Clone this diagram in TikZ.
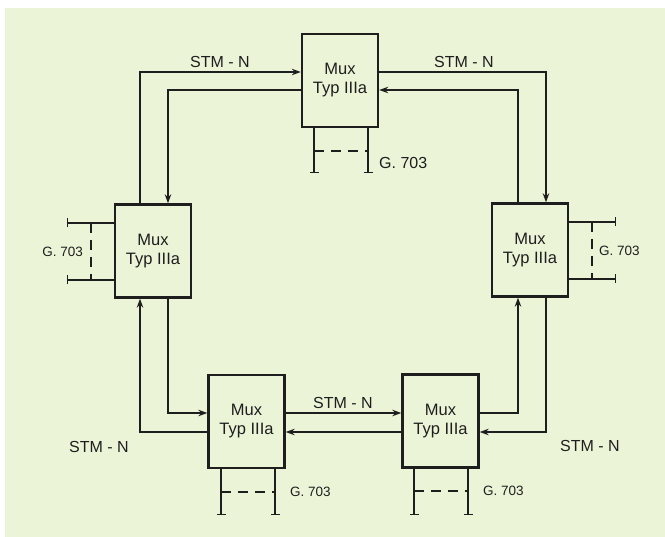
\documentclass[tikz,border=0pt]{standalone}
\usepackage{fontspec}
\setmainfont{Liberation Sans}
\usetikzlibrary{arrows.meta}
\definecolor{paper}{RGB}{236,244,216}
\definecolor{ink}{RGB}{30,30,30}
\begin{document}
\begin{tikzpicture}[x=1pt,y=-1pt,
  mux/.style={draw=ink,line width=2.4pt,minimum width=76pt,minimum height=93pt,inner sep=0pt,align=center,font=\fontsize{16.5}{19}\selectfont,text=ink},
  conn/.style={draw=ink,line width=1.1pt},
  arr/.style={conn,-{Stealth[length=9pt,width=6.5pt,inset=3pt]}},
  tee/.style={conn,-{Bar[width=9pt]}},
  dsh/.style={conn,dash pattern=on 10pt off 7pt},
  lbl/.style={font=\fontsize{16}{18}\selectfont,text=ink,inner sep=0pt},
  tlbl/.style={font=\fontsize{16}{18}\selectfont,text=ink,inner sep=0pt},
  glbl/.style={font=\fontsize{13.5}{15}\selectfont,text=ink,inner sep=0pt}]
\fill[white] (0,0) rectangle (665,537);
\fill[paper] (5,8) rectangle (665,537);
\useasboundingbox (0,0) rectangle (665,537);

% boxes
\node[mux] (T)  at (340,80.5)  {Mux\\Typ IIIa};
\node[mux] (L)  at (153,251)   {Mux\\Typ IIIa};
\node[mux] (R)  at (530,250)   {Mux\\Typ IIIa};
\node[mux] (BL) at (246.5,421.5) {Mux\\Typ IIIa};
\node[mux] (BR) at (440.5,421) {Mux\\Typ IIIa};

% helper lines
\coordinate (xL1) at (140,0);
\coordinate (xL2) at (168,0);
\coordinate (xR1) at (518,0);
\coordinate (xR2) at (546,0);
\coordinate (yT1) at (0,72);
\coordinate (yT2) at (0,90);
\coordinate (yB1) at (0,413);
\coordinate (yB2) at (0,432);

% ring connectors
\draw[arr] (L.north -| xL1) |- (T.west |- yT1);
\draw[arr] (T.west |- yT2) -| (L.north -| xL2);
\draw[arr] (T.east |- yT1) -| (R.north -| xR2);
\draw[arr] (R.north -| xR1) |- (T.east |- yT2);
\draw[arr] (L.south -| xL2) |- (BL.west |- yB1);
\draw[arr] (BL.west |- yB2) -| (L.south -| xL1);
\draw[arr] (BL.east |- yB1) -- (BR.west |- yB1);
\draw[arr] (BR.west |- yB2) -- (BL.east |- yB2);
\draw[arr] (BR.east |- yB1) -| (R.south -| xR1);
\draw[arr] (R.south -| xR2) |- (BR.east |- yB2);

% STM-N labels
\node[lbl] (s1) at (220,62) {STM - N};
\node[lbl] (s2) at (464,62) {STM - N};
\node[lbl] (s3) at (99,447) {STM - N};
\node[lbl] (s4) at (590,446) {STM - N};
\node[lbl] (s5) at (343,403) {STM - N};

% G.703 stubs: top
\coordinate (tg1) at (314,173);
\coordinate (tg2) at (368,173);
\draw[tee] (T.south -| tg1) -- (tg1);
\draw[tee] (T.south -| tg2) -- (tg2);
\draw[dsh] (314,151) -- (368,151);
\node[tlbl,anchor=west] (tgt) at (379,163) {G. 703};

% left
\coordinate (lg1) at (67,223);
\coordinate (lg2) at (67,280);
\draw[tee] (L.west |- lg1) -- (lg1);
\draw[tee] (L.west |- lg2) -- (lg2);
\draw[dsh] (91,223) -- (91,280);
\node[glbl,anchor=east] (lgt) at (83,252) {G. 703};

% right
\coordinate (rg1) at (616,222);
\coordinate (rg2) at (616,279);
\draw[tee] (R.east |- rg1) -- (rg1);
\draw[tee] (R.east |- rg2) -- (rg2);
\draw[dsh] (592,222) -- (592,279);
\node[glbl,anchor=west] (rgt) at (599,251) {G. 703};

% bottom left
\coordinate (blg1) at (221,515);
\coordinate (blg2) at (275,515);
\draw[tee] (BL.south -| blg1) -- (blg1);
\draw[tee] (BL.south -| blg2) -- (blg2);
\draw[dsh] (221,492) -- (275,492);
\node[glbl,anchor=west] (blgt) at (290,492) {G. 703};

% bottom right
\coordinate (brg1) at (414,515);
\coordinate (brg2) at (468,515);
\draw[tee] (BR.south -| brg1) -- (brg1);
\draw[tee] (BR.south -| brg2) -- (brg2);
\draw[dsh] (414,491) -- (468,491);
\node[glbl,anchor=west] (brgt) at (483,491) {G. 703};
\end{tikzpicture}
\end{document}
